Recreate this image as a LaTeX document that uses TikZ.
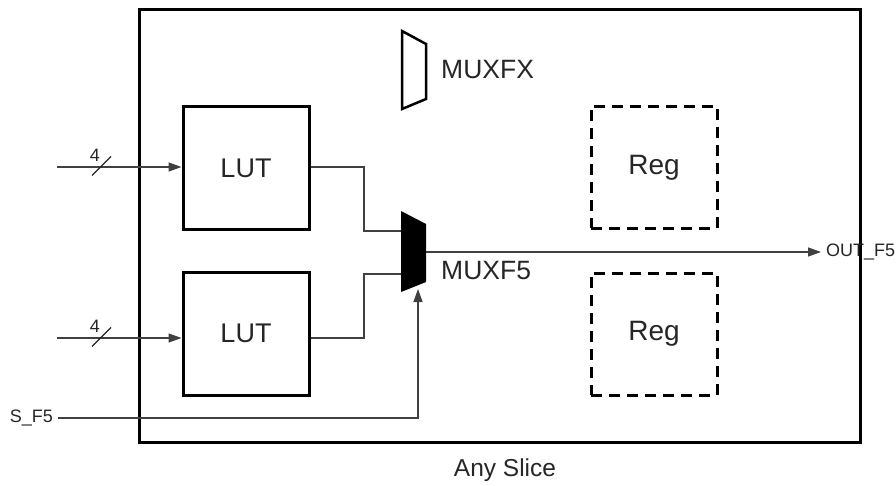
\documentclass[tikz,border=0pt]{standalone}
\usepackage{fontspec}
\setmainfont{Liberation Sans}
\usetikzlibrary{arrows.meta,calc}
\tikzset{
  slicebox/.style={draw=black, line width=3pt, minimum width=721pt, minimum height=432pt, inner sep=0pt},
  lutbox/.style={draw=black, line width=3pt, minimum width=126pt, minimum height=123pt, inner sep=0pt, font=\fontsize{27}{29}\selectfont, text=black!85},
  regbox/.style={draw=black, line width=3pt, dash pattern=on 11pt off 7pt, minimum width=126pt, minimum height=122pt, inner sep=0pt, font=\fontsize{28}{30}\selectfont, text=black!85},
  wire/.style={draw=black!75, line width=1.4pt},
  arr/.style={wire, -{Triangle[length=13pt,width=9pt]}},
  lbl/.style={inner sep=0pt, text=black!85},
  muxlbl/.style={lbl, anchor=west, font=\fontsize{26.5}{28}\selectfont},
  siglbl/.style={lbl, font=\fontsize{18}{20}\selectfont},
}
\begin{document}
\begin{tikzpicture}[x=1pt,y=-1pt]
\useasboundingbox (0,0) rectangle (896,486);
% slice
\node[slicebox] (slice) at (499.5,226) {};
\node[lbl, font=\fontsize{24.5}{26}\selectfont] (any) at (505,470) {Any Slice};
% LUTs
\node[lutbox] (lut1) at (246,168.5) {LUT};
\node[lutbox] (lut2) at (246,333.5) {LUT};
% Regs
\node[regbox] (reg1) at (654,167.5) {Reg};
\node[regbox] (reg2) at (654,334) {Reg};
% MUXFX (outline)
\draw[line width=2.5pt, line join=miter] (402,31) -- (426,44) -- (426,99) -- (402,109) -- cycle;
\node[muxlbl] (mfxl) at (441,70) {MUXFX};
% MUXF5 (filled)
\fill[black] (401,211) -- (426,224) -- (426,282) -- (401,292) -- cycle;
\coordinate (m5a) at (401,231);
\coordinate (m5b) at (401,274);
\coordinate (m5o) at (426,252);
\coordinate (m5s) at (418,289);
\node[muxlbl] (m5l) at (441,271) {MUXF5};
% inputs
\coordinate (in1) at (57,167);
\coordinate (in2) at (57,338);
\draw[arr] (in1) -- (lut1.west |- in1);
\draw[arr] (in2) -- (lut2.west |- in2);
\coordinate (sl1) at (101.5,166);
\coordinate (sl2) at (101.5,337);
\draw[black!85, line width=1.3pt] ($(sl1)+(-9.5,9.5)$) -- ($(sl1)+(9.5,-9.5)$);
\draw[black!85, line width=1.3pt] ($(sl2)+(-9.5,9.5)$) -- ($(sl2)+(9.5,-9.5)$);
\node[siglbl] (n1) at (95,155) {4};
\node[siglbl] (n2) at (95,326) {4};
% LUT to MUX
\draw[wire] (lut1.east |- in1) -- (364,167) |- (m5a);
\draw[wire] (lut2.east |- in2) -- (364,338) |- (m5b);
% output
\node[siglbl, anchor=west] (out) at (826,252) {OUT\_F5};
\draw[arr] (m5o) -- ([xshift=-5pt]out.west);
% select
\node[siglbl, anchor=east] (sf5) at (53,418) {S\_F5};
\draw[arr] ([xshift=5pt]sf5.east) -- (418,418) -- (m5s);
\end{tikzpicture}
\end{document}
